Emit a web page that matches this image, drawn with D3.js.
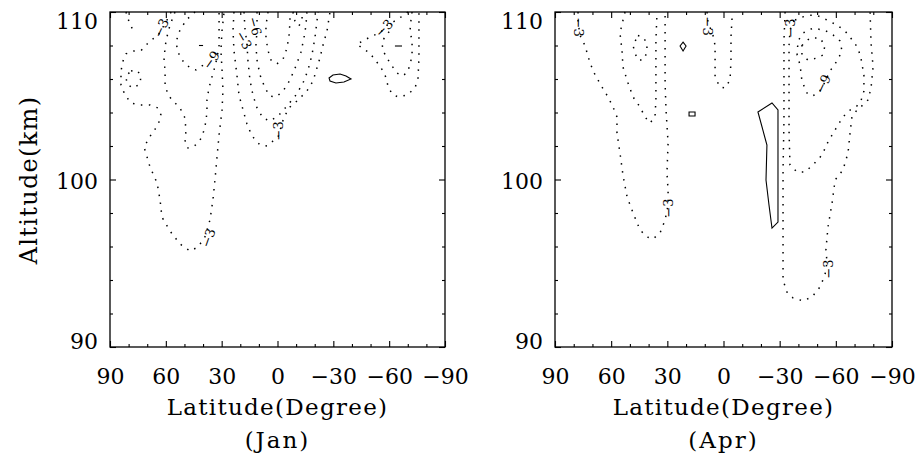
<!DOCTYPE html>
<html><head><meta charset="utf-8">
<script src="https://cdn.jsdelivr.net/npm/d3@7"></script>
<style>
body{margin:0;background:#fff}
svg{display:block}
text{font-family:"DejaVu Serif",serif;fill:#000}
</style>
</head><body>
<svg id="c" width="917" height="458"></svg>
<script>
// ---------- axis data ----------
const xTickLabels=[90,60,30,0,-30,-60,-90];
const xMinor=[80,70,50,40,20,10,-10,-20,-40,-50,-70,-80];
const yTickLabels=[90,100,110];
const yMinor=[92,94,96,98,102,104,106,108];
const months=["Jan","Apr"];

// ---------- Jan contours [lat, alt] ----------
const janM3a=[[57.2,110],[59.9,109.4],[64.2,108.6],[68.5,108.27],[73.3,107.7],[77.6,107.67],[81.4,107.5],[83.0,107.07],[84.1,106.48],[84.1,105.64],[81.9,105.04],[78.7,104.57],[73.9,104.45],[68.5,104.45],[64.2,104.27],[62.6,103.85],[64.2,103.25],[68.0,102.66],[71.7,101.94],[68.5,100.75],[64.7,99.79],[63.1,98.78],[62.1,97.76],[57.8,96.93],[52.4,96.15],[47.0,95.73],[42.7,95.97],[39.0,96.57],[36.3,97.58],[34.7,98.78],[33.6,99.97],[32.5,101.34],[31.4,102.66],[29.8,104.15],[29.3,105.34],[29.8,106.54],[30.4,107.7],[29.8,108.9],[28.7,110]];
const janM3b=[[81.4,110],[80.3,109.58],[78.7,109.16],[77.1,108.8]];
const janM6loop=[[78.7,106.48],[76.0,106.54],[73.3,106.24],[73.9,105.7],[77.6,105.46],[80.9,105.7],[81.4,106.18]];
const janM6a=[[55.1,110],[57.8,109.2],[59.9,108.3],[61.0,107.25],[60.4,106.48],[60.4,105.64],[58.8,105.04],[56.1,104.69],[52.4,104.27],[49.7,103.67],[49.2,102.9],[49.7,102.18],[48.1,101.88],[45.4,101.94],[42.7,102.18],[40.6,102.54],[39.0,103.13],[37.9,103.97],[37.9,104.75],[36.8,105.46],[35.7,105.94],[34.1,106.54],[32.5,107.25],[31.4,108.0],[31.4,108.9],[31.4,110]];
const janM9a=[[44.3,110],[49.2,109.5],[52.9,108.8],[54.5,108.2],[53.5,107.6],[50.8,107.07],[47.0,106.66],[43.8,106.54],[40.6,106.78],[37.9,106.96]];
const janM3c=[[23.4,110],[23.9,108.9],[23.4,107.7],[21.8,106.24],[20.7,105.04],[18.5,104.15],[16.4,103.31],[13.7,102.6],[9.4,102.06],[5.6,102.0],[2.4,102.3],[-0.3,102.54],[-3.5,103.73],[-6.7,104.33],[-10.5,104.69],[-15.8,105.28],[-19.1,105.88],[-21.2,106.66],[-22.8,107.25],[-24.4,108.0],[-26.6,108.87],[-28.2,110]];
const janM3d=[[18.0,110],[17.5,109.04],[16.4,108.09],[15.9,107.13],[14.8,105.94],[13.2,105.04],[11.0,104.27],[7.8,103.67],[4.0,103.49],[-0.3,103.79],[-5.6,104.45],[-9.9,105.04],[-13.7,105.76],[-16.4,106.54],[-18.5,107.43],[-20.1,108.45],[-21.8,110]];
const janM6b=[[11.0,110],[11.0,108.9],[11.6,108.0],[11.0,107.13],[9.4,106.24],[6.7,105.46],[4.0,104.98],[0.8,104.93],[-3.0,105.28],[-6.7,105.94],[-9.9,106.78],[-12.6,107.6],[-14.2,108.45],[-15.3,109.2],[-15.8,110]];
const janM9b=[[5.1,110],[6.2,109.2],[6.2,108.45],[5.1,107.7],[3.5,107.13],[0.3,106.9],[-3.0,107.19],[-5.1,107.85],[-6.2,108.6],[-6.7,109.4],[-6.7,110]];
const janM12=[[-8.3,110],[-9.4,109.46],[-11.5,109.16],[-13.2,109.52],[-13.2,110]];
const janM3e=[[-70.1,110],[-66.3,109.7],[-62.1,109.4],[-58.8,109.2],[-55.1,108.75],[-50.8,108.57],[-45.9,108.27],[-42.7,108.09],[-45.4,107.85],[-49.7,107.55],[-52.4,107.13],[-55.1,106.78],[-57.8,106.24],[-59.4,105.58],[-61.5,105.1],[-64.7,104.93],[-69.6,105.04],[-73.9,105.46],[-75.5,106.06],[-76.0,107.25],[-76.0,108.27],[-76.0,109.2],[-76.0,110]];
const janM6c=[[-72.3,110],[-71.7,109.5],[-71.2,108.87],[-72.3,108.27],[-72.3,107.43],[-71.2,106.84],[-69.6,106.36],[-66.9,106.18],[-64.2,106.36],[-61.5,106.78],[-58.8,107.25],[-56.7,107.7],[-56.1,108.2],[-58.3,108.63],[-61.0,108.93]];
const janP3=[[-27.7,106.06],[-29.8,106.24],[-33.6,106.3],[-36.8,106.18],[-39.5,106.0],[-35.7,105.82],[-31.4,105.76],[-28.2,105.88]];
const janSpecks=[[[42.2,108.0],[40.0,108.0]],[[-63.1,107.97],[-66.9,107.97]]];
const janLabelPos=[[62.6,109.04],[35.7,107.13],[18.0,108.33],[12.1,109.16],[37.3,96.51],[-0.3,102.9],[-57.2,109.04]];
const janLabelText=["-3","-9","-3","-6","-3","-3","-3"];
const janLabelAngle=[-65,-55,60,75,-70,-90,-45];

// ---------- Apr contours [lat, alt] ----------
const aprM3a=[[77.7,110],[77.7,109.4],[76.6,108.6],[74.0,108.0],[71.3,106.96],[68.6,106.24],[64.9,105.52],[61.7,104.93],[59.0,104.33],[56.9,103.73],[56.9,102.78],[55.3,101.58],[53.7,100.27],[51.5,98.96],[48.3,98.0],[44.6,96.99],[40.9,96.57],[37.7,96.45],[33.9,96.81],[31.2,97.58],[29.6,98.48],[29.6,99.37],[30.2,100.39],[29.6,102.18],[30.7,104.15],[31.2,105.76],[31.2,107.7],[31.2,109.5],[31.2,110]];
const aprM6a=[[52.6,110],[53.7,109.5],[55.3,108.75],[54.2,107.7],[53.7,106.72],[51.0,105.76],[48.3,104.93],[44.6,104.33],[41.9,103.73],[39.3,103.37],[36.6,103.73],[36.1,104.75],[36.1,106.54],[36.1,108.3],[35.5,110]];
const aprM9a=[[45.7,108.6],[43.0,108.5],[40.9,108.15],[40.9,107.55],[43.0,107.13],[45.7,107.13],[47.3,107.55],[48.3,108.0]];
const aprP3a=[[21.6,108.2],[20.0,107.97],[21.6,107.67],[23.2,107.97]];
const aprP3b=[[18.4,104.03],[15.2,104.03],[15.2,103.79],[18.4,103.79]];
const aprM3b=[[8.8,110],[8.3,109.4],[5.6,108.6],[4.5,108.0],[4.5,107.13],[4.5,106.12],[1.9,105.52],[-0.8,105.46],[-3.5,105.94],[-4.0,107.13],[-4.0,108.5],[-4.6,109.7],[-4.6,110]];
const aprP3c=[[-18.4,104.03],[-25.9,104.57],[-29.1,104.15],[-29.1,97.46],[-25.9,97.1],[-24.3,98.48],[-22.7,99.97],[-23.2,102.06]];
const aprM3c=[[-32.9,110],[-32.3,108.33],[-32.3,105.94],[-32.3,103.55],[-31.8,100.57],[-31.8,96.99],[-31.8,94.0],[-33.9,93.28],[-37.1,92.93],[-42.5,92.75],[-47.3,92.99],[-51.5,93.58],[-54.2,94.3],[-55.3,95.07],[-54.7,95.79],[-55.8,97.16],[-58.0,98.6],[-59.6,99.97],[-63.8,100.57],[-66.5,101.58],[-67.6,102.78],[-68.6,103.73],[-71.3,104.15],[-74.5,104.45],[-77.2,104.75],[-78.8,105.46],[-79.9,106.72],[-78.8,108.15],[-78.3,110]];
const aprM6b=[[-38.2,109.52],[-41.9,109.7],[-46.2,109.8],[-49.9,109.8],[-55.3,109.52],[-60.6,109.22],[-64.9,108.87],[-69.2,108.27],[-71.8,107.85],[-73.4,107.25],[-75.0,106.24],[-75.0,105.28],[-73.4,104.69],[-71.3,104.39],[-67.6,104.15],[-63.8,103.73],[-59.6,102.96],[-55.8,102.24],[-52.6,101.46],[-47.8,100.87],[-43.5,100.45],[-39.3,100.45],[-35.5,100.87],[-35.0,102.96],[-35.0,105.94],[-35.0,108.0],[-35.5,108.9],[-37.1,109.4]];
const aprM9b=[[-39.3,107.43],[-39.8,108.27],[-42.5,108.75],[-47.8,109.04],[-54.2,108.9],[-58.5,108.63],[-62.2,108.27],[-63.3,107.67],[-60.6,107.07],[-56.9,106.48],[-54.7,105.94],[-52.6,105.46],[-50.5,105.16],[-47.3,104.98],[-44.6,105.16],[-41.9,105.88],[-40.9,106.84]];
const aprM12=[[-41.9,108.0],[-46.2,108.45],[-51.5,108.45],[-54.2,108.0],[-53.1,107.43],[-49.9,107.25],[-45.1,107.13],[-41.9,107.43]];
const aprLabelPos=[[77.2,109.1],[8.3,109.16],[-35.5,109.04],[-53.1,105.7],[29.6,98.3],[-55.8,94.66]];
const aprLabelText=["-3","-3","-3","-9","-3","-3"];
const aprLabelAngle=[90,90,-90,-65,-90,-90];

// ---------- assemble ----------
const janLines=[
  {lv:-3,pts:janM3a},{lv:-3,pts:janM3b},{lv:-6,pts:janM6loop,closed:true},{lv:-6,pts:janM6a},{lv:-9,pts:janM9a},
  {lv:-3,pts:janM3c},{lv:-3,pts:janM3d},{lv:-6,pts:janM6b},{lv:-9,pts:janM9b},{lv:-12,pts:janM12},
  {lv:-3,pts:janM3e},{lv:-6,pts:janM6c},{lv:3,pts:janP3,closed:true}
];
const aprLines=[
  {lv:-3,pts:aprM3a},{lv:-6,pts:aprM6a},{lv:-9,pts:aprM9a,closed:true},{lv:3,pts:aprP3a,closed:true},{lv:3,pts:aprP3b,closed:true},
  {lv:-3,pts:aprM3b},{lv:3,pts:aprP3c,closed:true},{lv:-3,pts:aprM3c},{lv:-6,pts:aprM6b,closed:true},{lv:-9,pts:aprM9b,closed:true},{lv:-12,pts:aprM12,closed:true}
];
const panels=[
  {month:months[0],x0:110,x1:445,lines:janLines,specks:janSpecks,lp:janLabelPos,lt:janLabelText,la:janLabelAngle},
  {month:months[1],x0:555,x1:892,lines:aprLines,specks:[],lp:aprLabelPos,lt:aprLabelText,la:aprLabelAngle}
];

const svg=d3.select("#c");
const yTop=12,yBot=347;
const y=d3.scaleLinear().domain([90,110]).range([yBot,yTop]);
const fmt=d=>d<0?"\u2212"+Math.abs(d):String(d);

panels.forEach(p=>{
  const x=d3.scaleLinear().domain([90,-90]).range([p.x0,p.x1]);
  const g=svg.append("g");
  const line=d3.line().x(d=>x(d[0])).y(d=>y(d[1]));
  const lineC=d3.line().x(d=>x(d[0])).y(d=>y(d[1])).curve(d3.curveLinearClosed);
  p.lines.forEach(l=>{
    g.append("path").attr("d",(l.closed?lineC:line)(l.pts))
      .attr("fill","none").attr("stroke","#000")
      .attr("stroke-width",l.lv<0?1.5:1.1)
      .attr("stroke-linecap","butt")
      .attr("stroke-dasharray",l.lv<0?"1.5 6.5":null);
  });
  p.specks.forEach(s=>{
    g.append("path").attr("d",line(s)).attr("fill","none").attr("stroke","#000").attr("stroke-width",1.1);
  });
  p.lp.forEach((pos,i)=>{
    g.append("text").attr("transform",`translate(${x(pos[0])},${y(pos[1])}) rotate(${p.la[i]})`)
      .attr("text-anchor","middle").attr("dy","0.36em").attr("font-size",13)
      .text(p.lt[i].replace("-","\u2212"));
  });
  g.append("rect").attr("x",p.x0).attr("y",yTop).attr("width",p.x1-p.x0).attr("height",yBot-yTop)
    .attr("fill","none").attr("stroke","#000").attr("stroke-width",1.3);
  const mk=(axis,tr)=>{const a=g.append("g").attr("transform",tr).call(axis);a.select(".domain").remove();a.selectAll("line").attr("stroke","#000").attr("stroke-width",1.1);return a;};
  const bx=mk(d3.axisBottom(x).tickValues(xTickLabels).tickSize(-6).tickPadding(21).tickFormat(fmt),`translate(0,${yBot})`);
  bx.selectAll("text").attr("font-family","DejaVu Serif").attr("font-size",22).attr("fill","#000");
  mk(d3.axisBottom(x).tickValues(xMinor).tickSize(-3).tickFormat(""),`translate(0,${yBot})`);
  mk(d3.axisTop(x).tickValues(xTickLabels).tickSize(-6).tickFormat(""),`translate(0,${yTop})`);
  mk(d3.axisTop(x).tickValues(xMinor).tickSize(-3).tickFormat(""),`translate(0,${yTop})`);
  const ly=mk(d3.axisLeft(y).tickValues(yTickLabels).tickSize(-6).tickPadding(12).tickFormat(fmt),`translate(${p.x0},0)`);
  ly.selectAll("text").attr("font-family","DejaVu Serif").attr("font-size",22).attr("fill","#000")
    .attr("dy",d=>d===110?"0.73em":d===90?"0.05em":"0.39em");
  mk(d3.axisLeft(y).tickValues(yMinor).tickSize(-3).tickFormat(""),`translate(${p.x0},0)`);
  mk(d3.axisRight(y).tickValues(yTickLabels).tickSize(-6).tickFormat(""),`translate(${p.x1},0)`);
  mk(d3.axisRight(y).tickValues(yMinor).tickSize(-3).tickFormat(""),`translate(${p.x1},0)`);
  const cx=(p.x0+p.x1)/2;
  g.append("text").attr("x",cx).attr("y",415).attr("text-anchor","middle").attr("font-size",23)
    .attr("letter-spacing","1.3px").text("Latitude(Degree)");
  g.append("text").attr("x",cx).attr("y",448).attr("text-anchor","middle").attr("font-size",23)
    .attr("letter-spacing","2px").text("("+p.month+")");
});
svg.append("text").attr("transform","translate(37,180) rotate(-90)").attr("text-anchor","middle")
  .attr("font-size",24).attr("letter-spacing","1.3px").text("Altitude(km)");
</script>
</body></html>
